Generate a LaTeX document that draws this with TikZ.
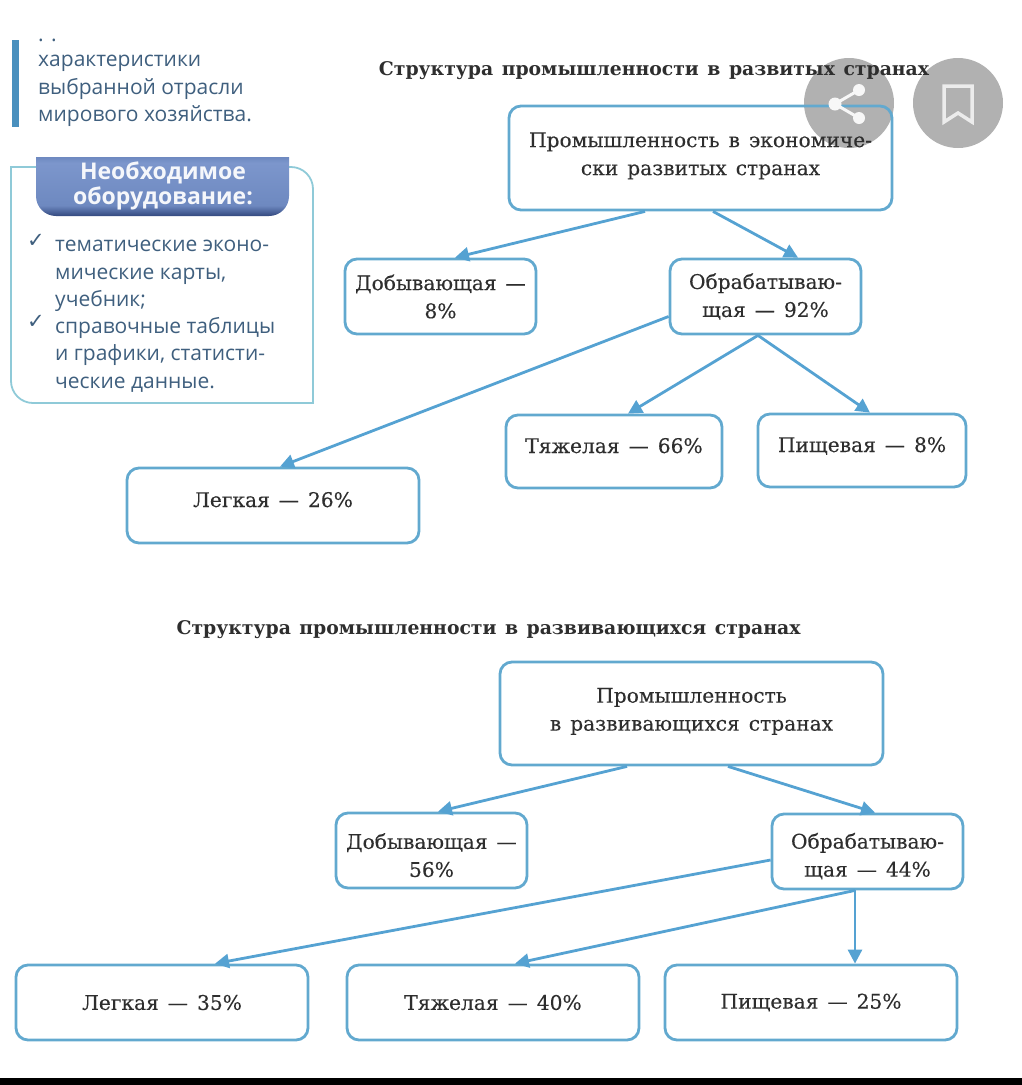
\documentclass[tikz,border=0pt]{standalone}
\usepackage{fontspec}
\setmainfont{DejaVu Serif}
\newfontfamily\labelfont[FakeBold=0.25,WordSpace=1.4]{DejaVu Serif}
\newfontfamily\titlefont[WordSpace=1.3]{DejaVu Serif}
\newfontfamily\panelfont{Open Sans}
\newfontfamily\markfont{DejaVu Sans}
\usepackage{xcolor}
\usetikzlibrary{arrows.meta}
\definecolor{boxline}{HTML}{62A9CF}
\definecolor{arrowline}{HTML}{55A2D2}
\definecolor{panelline}{HTML}{8FCAD8}
\definecolor{barblue}{HTML}{4A90BE}
\definecolor{panelink}{HTML}{3F5F7E}
\definecolor{headtop}{HTML}{7C96CC}
\definecolor{headmid}{HTML}{6E89C0}
\definecolor{headbot}{HTML}{33497F}
\definecolor{badge}{HTML}{B1B1B1}
\definecolor{labelink}{HTML}{2E2E2E}
\pgfdeclareverticalshading{headshade}{100bp}{color(0bp)=(headbot); color(25bp)=(headbot); color(34bp)=(headmid); color(70bp)=(headtop); color(75bp)=(headmid); color(100bp)=(headmid)}

\begin{document}
\begin{tikzpicture}[x=1pt,y=-1pt,
    boxnode/.style={draw=boxline,line width=2.8pt,rounded corners=12pt,inner sep=1pt,align=center,text=labelink,font=\labelfont\fontsize{20.2}{28}\selectfont},
    textup/.style={text depth=12pt},
    textdown/.style={text height=53pt},
    textrise/.style={text height=38.5pt},
    flow/.style={-{Triangle[length=14pt,width=14pt]},arrowline,line width=2.8pt},
    titlenode/.style={font=\titlefont\bfseries\fontsize{18.8}{22}\selectfont,text=labelink,inner sep=0pt},
    paneltext/.style={font=\panelfont\fontsize{21}{27.4}\selectfont,text=panelink,align=left,anchor=north west,inner sep=0pt},
    tick/.style={font=\markfont\fontsize{21}{22}\selectfont,text=panelink,inner sep=0pt},
    badgenode/.style={circle,fill=badge,minimum size=90pt,inner sep=0pt}]
    \useasboundingbox (0,0) rectangle (1022,1085);
    \fill[black] (0,1078) rectangle (1022,1085);

    % left column
    \fill[barblue] (12,40) rectangle (19,127);
    \node (dots) [paneltext] at (38,39) {. .};
    \node (goal) [paneltext] at (38,55) {характеристики\\выбранной отрасли\\мирового хозяйства.};
    \draw[panelline,line width=1.8pt] (36,167) -- (11,167) [rounded corners=22pt] -- (11,403) [sharp corners] -- (313,403) [rounded corners=22pt] -- (313,167) [sharp corners] -- (289,167);
    \shade[shading=headshade,rounded corners=20pt] (36,157) [sharp corners] -- (36,175) [rounded corners=20pt] -- (36,216) -- (289,216) [sharp corners] -- (289,157) -- cycle;
    \node (head) [font=\panelfont\bfseries\fontsize{23}{24.5}\selectfont,text=white!92!headtop,align=center,inner sep=0pt] at (163,186) {Необходимое\\оборудование:};
    \node (tick1) [tick] at (36,241) {✓};
    \node (equip1) [paneltext] at (55,240) {тематические эконо-\\мические карты,\\учебник;};
    \node (tick2) [tick] at (36,322) {✓};
    \node (equip2) [paneltext] at (55,317) {справочные таблицы\\и графики, статисти-\\ческие данные.};

    % badges stay under the boxes
    \node (share) [badgenode] at (849,103) {};
    \node (mark) [badgenode] at (958,103) {};

    % upper chart
    \node (title1) [titlenode] at (654,71) {Структура промышленности в развитых странах};
    \node (prom1) [boxnode,textrise,minimum width=383pt,minimum height=104pt] at (700.5,158) {Промышленность в экономиче-\\ски развитых странах};
    \node (dob1) [boxnode,minimum width=191pt,minimum height=75pt] at (440.5,296.5) {Добывающая —\\8\%};
    \node (obr1) [boxnode,minimum width=191pt,minimum height=75pt] at (765.5,296.5) {Обрабатываю-\\щая — 92\%};
    \node (tyazh1) [boxnode,textup,minimum width=216pt,minimum height=73pt] at (614,451.5) {Тяжелая — 66\%};
    \node (pish1) [boxnode,textup,minimum width=208pt,minimum height=73pt] at (862,450.5) {Пищевая — 8\%};
    \node (leg1) [boxnode,textup,minimum width=292pt,minimum height=75pt] at (273,505.5) {Легкая — 26\%};
    \draw[flow] ([xshift=-55.5]prom1.south) -- ([xshift=14.5]dob1.north);
    \draw[flow] ([xshift=12.5]prom1.south) -- ([xshift=32.5]obr1.north);
    \draw[flow] ([yshift=-20]obr1.west) -- ([xshift=7]leg1.north);
    \draw[flow] ([xshift=-7.5]obr1.south) -- ([xshift=14]tyazh1.north);
    \draw[flow] ([xshift=-7.5]obr1.south) -- ([xshift=8]pish1.north);

    % lower chart
    \node (title2) [titlenode] at (488.5,630) {Структура промышленности в развивающихся странах};
    \node (prom2) [boxnode,textrise,minimum width=383pt,minimum height=103pt] at (691.5,713.5) {Промышленность\\в развивающихся странах};
    \node (dob2) [boxnode,textdown,minimum width=191pt,minimum height=75pt] at (431.5,850.5) {Добывающая —\\56\%};
    \node (obr2) [boxnode,textdown,minimum width=191pt,minimum height=75pt] at (867.5,851.5) {Обрабатываю-\\щая — 44\%};
    \node (leg2) [boxnode,minimum width=292pt,minimum height=75pt] at (162,1002.5) {Легкая — 35\%};
    \node (tyazh2) [boxnode,minimum width=292pt,minimum height=75pt] at (493,1002.5) {Тяжелая — 40\%};
    \node (pish2) [boxnode,minimum width=292pt,minimum height=75pt] at (811,1002.5) {Пищевая — 25\%};
    \draw[flow] ([xshift=-64.5]prom2.south) -- ([xshift=6.5]dob2.north);
    \draw[flow] ([xshift=36.5]prom2.south) -- ([xshift=7.5]obr2.north);
    \draw[flow] ([yshift=-8.5]obr2.west) -- ([xshift=53]leg2.north);
    \draw[flow] ([xshift=-12.5]obr2.south) -- ([xshift=22]tyazh2.north);
    \draw[flow] ([xshift=-12.5]obr2.south) -- ([xshift=44]pish2.north);

    % badge icons
    \draw[white!90!badge,line width=3pt] (859,90) -- (835,104) -- (859,118);
    \fill[white!90!badge] (835,104) circle (6.5) (859,90) circle (6) (859,118) circle (6);
    \draw[white!75!badge,line width=3.5pt] (944,86) -- (972,86) -- (972,122) -- (958,113) -- (944,122) -- cycle;
  \end{tikzpicture}
\end{document}
